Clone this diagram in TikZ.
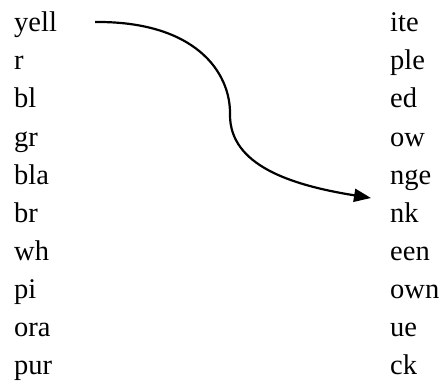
\documentclass[tikz,border=0pt]{standalone}
\usepackage{fontspec}
\setmainfont{Liberation Serif}
\usetikzlibrary{arrows.meta}
\begin{document}
\begin{tikzpicture}[x=1pt,y=-1pt,
  word/.style={anchor=base west,inner sep=0pt,font=\fontsize{28.5}{32}\selectfont},
  conn/.style={line width=2.2pt,-{Triangle[length=17pt,width=13pt]}}]
\useasboundingbox (0,0) rectangle (443,391);
\foreach \w [count=\i from 0] in {yell,r,bl,gr,bla,br,wh,pi,ora,pur}
  \node[word] (l\i) at (14,{31.7+38.1*\i}) {\w};
\foreach \w [count=\i from 0] in {ite,ple,ed,ow,nge,nk,een,own,ue,ck}
  \node[word] (r\i) at (390,{31.7+38.1*\i}) {\w};
\coordinate (s) at (95,22);
\coordinate (m) at (230,115);
\coordinate (e) at (371,198);
\draw[conn] (s) .. controls (195,21) and (231,72) .. (m)
  .. controls (230,165) and (290,185) .. (e);
\end{tikzpicture}
\end{document}
